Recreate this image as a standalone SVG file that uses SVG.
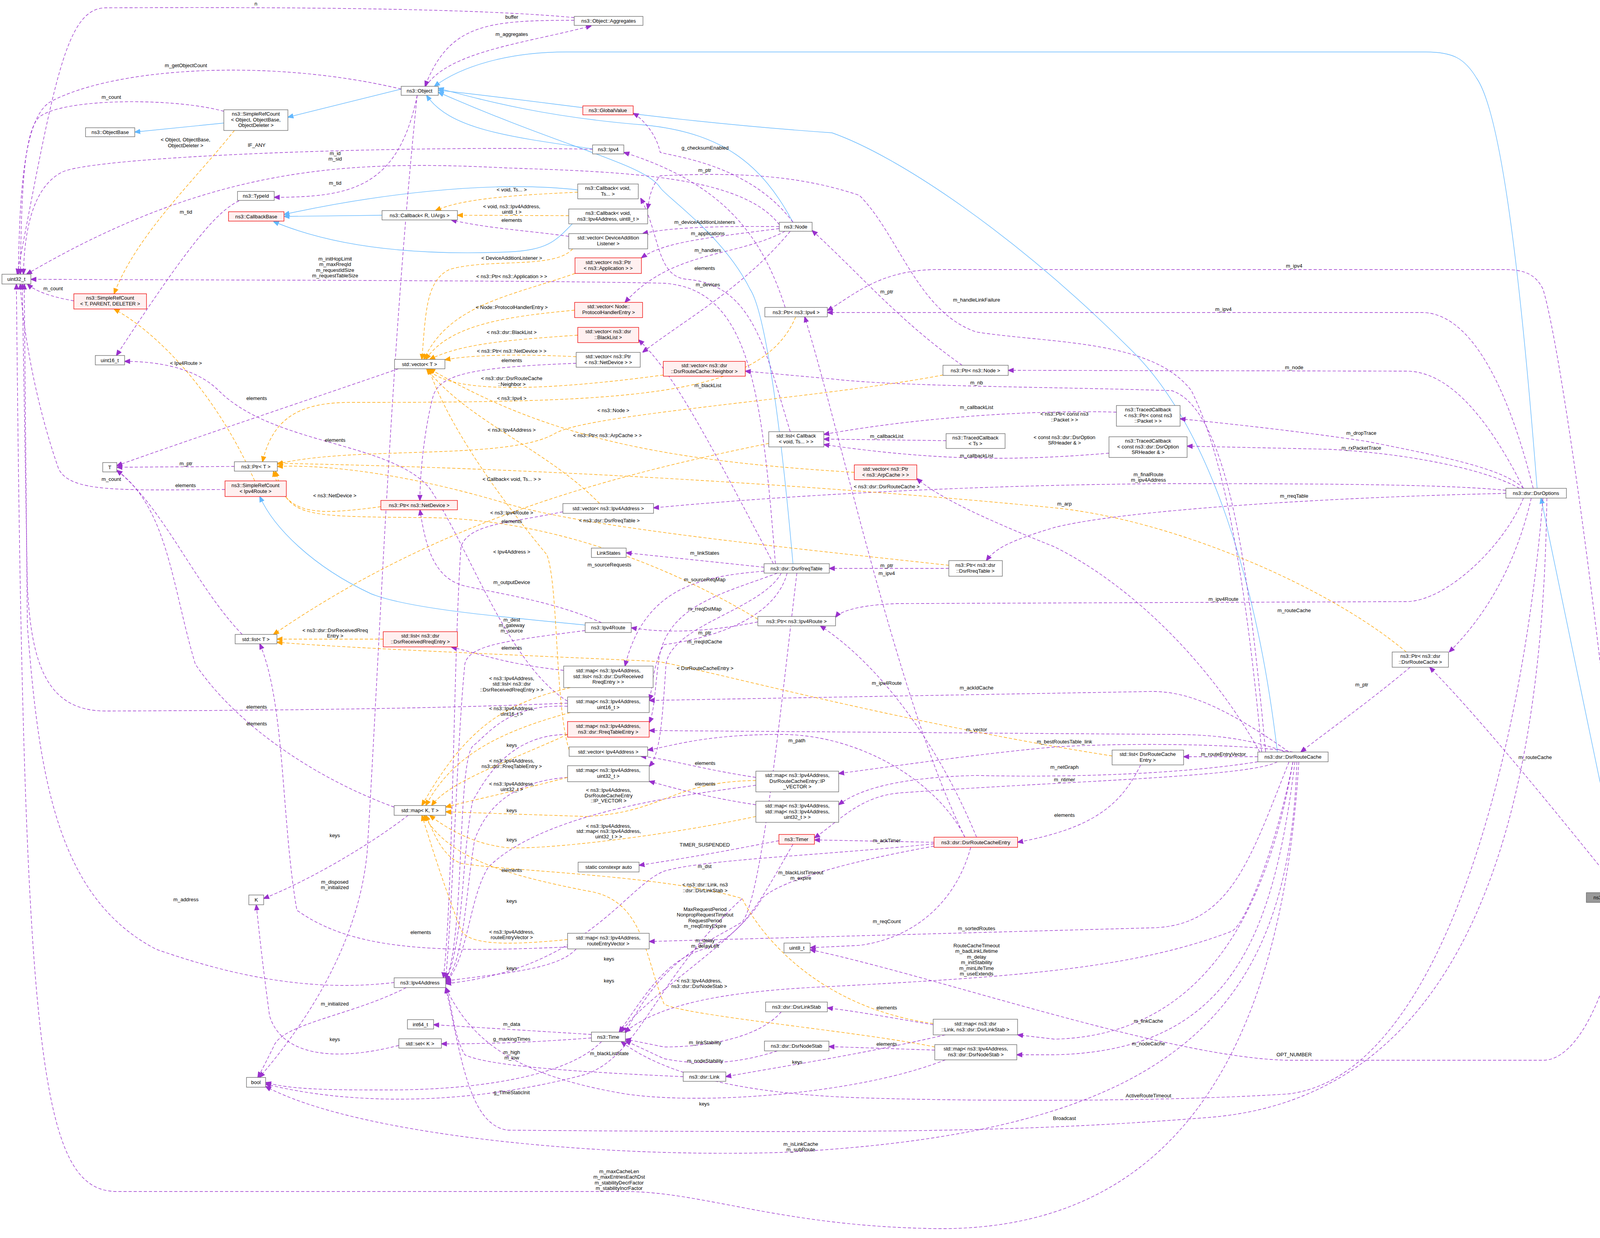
<svg xmlns="http://www.w3.org/2000/svg" width="4261" height="3169" viewBox="0 0 4261 3169">
<style>
text{font-family:"Liberation Sans",Arial,sans-serif;font-size:13px;fill:#000;text-anchor:middle}
.n rect{fill:#fff;stroke:#666;stroke-width:1.3}
.r rect{fill:#fff0f0;stroke:#e00;stroke-width:1.3}
.g rect{fill:#999;stroke:#666;stroke-width:1.3}
path{fill:none;stroke-width:1.4}
.p{stroke:#9a32cd;stroke-dasharray:8,5;marker-end:url(#mp)}
.o{stroke:#ffa500;stroke-dasharray:8,5;marker-end:url(#mo)}
.b{stroke:#63b8ff;marker-end:url(#mb)}
</style>
<defs>
<marker id="mp" viewBox="0 0 10 10" refX="10" refY="5" markerWidth="14" markerHeight="14" markerUnits="userSpaceOnUse" orient="auto"><path d="M0,1 L10,5 L0,9 z" style="fill:#9a32cd;stroke:#9a32cd"/></marker>
<marker id="mo" viewBox="0 0 10 10" refX="10" refY="5" markerWidth="14" markerHeight="14" markerUnits="userSpaceOnUse" orient="auto"><path d="M0,1 L10,5 L0,9 z" style="fill:#ffa500;stroke:#ffa500"/></marker>
<marker id="mb" viewBox="0 0 10 10" refX="10" refY="5" markerWidth="14" markerHeight="14" markerUnits="userSpaceOnUse" orient="auto"><path d="M0,1 L10,5 L0,9 z" style="fill:#63b8ff;stroke:#63b8ff"/></marker>
</defs>
<rect width="4261" height="3169" fill="#fff"/>
<g id="connectors">
<path class="b" d="M573,315 L345,338"/>
<path class="b" d="M1027,228 L737,300"/>
<path class="b" d="M1517,381 C1300,350 1150,330 1092,244"/>
<path class="b" d="M2030,569 C1950,420 1850,340 1650,320 C1400,300 1250,260 1122,226"/>
<path class="b" d="M2030,1443 C2000,1100 1960,800 1920,740 C1850,600 1700,500 1690,480 C1650,420 1450,380 1122,236"/>
<path class="b" d="M3270,1925 C3220,1500 3100,1100 2900,900 C2600,600 2300,400 2130,340 C1700,310 1400,260 1122,231"/>
<path class="b" d="M3935,1250 C3900,800 3850,300 3780,200 C3750,150 3720,133 3650,133 L1450,133 C1300,133 1180,170 1112,221"/>
<path class="b" d="M4155,2285 L3945,1275"/>
<path class="b" d="M1479,486 C1250,460 950,500 727,549"/>
<path class="b" d="M978,551 L727,554"/>
<path class="b" d="M1466,572 C1420,620 1400,640 1300,645 C1050,655 850,630 700,567"/>
<path class="b" d="M1498,1600 C1300,1580 1050,1560 950,1520 C800,1450 700,1350 665,1271"/>

<path class="p" d="M1470,45 C1200,20 700,18 270,20 C170,22 140,200 44,702"/>
<path class="p" d="M1470,52 C1250,52 1150,60 1088,221"/>
<path class="p" d="M1090,221 C1150,130 1350,110 1514,66"/>
<path class="p" d="M1027,228 C700,150 300,170 130,260 C60,300 50,500 47,702"/>
<path class="p" d="M573,285 C450,250 160,250 100,300 C60,340 55,500 52,702"/>
<path class="p" d="M1517,382 C1000,372 250,400 160,440 C80,480 62,600 60,702"/>
<path class="p" d="M1995,575 C1900,450 1600,440 1300,430 C900,410 550,420 68,702"/>
<path class="p" d="M1068,244 C1020,480 900,505 702,505"/>
<path class="p" d="M612,514 C560,540 500,600 298,910"/>
<path class="p" d="M1456,605 C1350,590 1250,585 1155,563"/>
<path class="p" d="M2030,569 C1920,420 1720,400 1690,390 C1680,340 1640,300 1621,290"/>
<path class="p" d="M2010,787 C1950,600 1850,470 1597,390"/>
<path class="p" d="M1995,580 C1800,578 1700,585 1645,598"/>
<path class="p" d="M1995,585 C1800,610 1700,620 1642,660"/>
<path class="p" d="M2010,592 C1880,660 1720,640 1600,774"/>
<path class="p" d="M2023,592 C1900,740 1750,820 1645,902"/>
<path class="p" d="M2023,1105 C1960,900 1930,730 1760,715 C1680,710 1690,600 1640,507"/>
<path class="p" d="M1985,1443 C1950,1000 1920,740 1700,725 C1400,718 600,717 79,715"/>
<path class="p" d="M189,770 C130,760 90,745 70,727"/>
<path class="p" d="M1475,930 C1200,940 1130,960 1110,1010 C1090,1080 1075,1200 1075,1281"/>
<path class="p" d="M1020,944 C800,1020 500,1120 299,1192"/>
<path class="p" d="M1453,1795 C1300,1700 1200,1400 1100,1250 C1000,1130 700,1140 560,1000 C500,940 400,925 319,925"/>
<path class="p" d="M600,1194 L299,1196"/>
<path class="p" d="M576,1253 C300,1255 180,1260 150,1200 C80,1000 55,800 52,727"/>
<path class="p" d="M620,1624 C500,1500 420,1300 299,1204"/>
<path class="p" d="M1956,1452 L1603,1415"/>
<path class="p" d="M1956,1462 C1800,1475 1650,1500 1600,1705"/>
<path class="p" d="M1990,1467 C1850,1520 1700,1550 1685,1700 C1675,1780 1675,1820 1662,1850"/>
<path class="p" d="M2000,1467 C1950,1560 1720,1600 1705,1700 C1695,1850 1690,1930 1662,1962"/>
<path class="p" d="M2015,1467 C1980,1600 1780,1640 1700,1650 C1670,1700 1670,1770 1662,1792"/>
<path class="p" d="M1980,1443 C1800,1100 1720,950 1635,870"/>
<path class="p" d="M1540,1594 C1420,1540 1280,1520 1190,1500 C1110,1480 1090,1400 1075,1305"/>
<path class="p" d="M1940,1592 C1800,1620 1700,1620 1616,1607"/>
<path class="p" d="M1498,1614 C1300,1640 1200,1650 1190,1700 C1170,1900 1160,2300 1141,2505"/>
<path class="p" d="M1441,1310 C1300,1340 1200,1340 1180,1400 C1160,1700 1160,2300 1135,2503"/>
<path class="p" d="M1443,1716 C1300,1700 1250,1680 1155,1656"/>
<path class="p" d="M1453,1800 C1200,1810 900,1818 270,1820 C120,1820 80,1700 70,1500 L57,727"/>
<path class="p" d="M1009,2066 C800,1990 600,1850 500,1700 C440,1500 430,1300 299,1204"/>
<path class="p" d="M1453,1808 C1300,1800 1250,1880 1210,1910 C1170,1960 1190,2400 1141,2510"/>
<path class="p" d="M1453,1880 C1300,1880 1240,2000 1210,2050 C1180,2200 1190,2400 1141,2512"/>
<path class="p" d="M1453,1990 C1300,2000 1240,2080 1215,2150 C1190,2300 1190,2450 1141,2514"/>
<path class="p" d="M1935,2010 C1800,2030 1400,2070 1250,2220 C1200,2300 1200,2450 1141,2516"/>
<path class="p" d="M1045,2087 C950,2160 800,2250 675,2300"/>
<path class="p" d="M1994,2152 C1900,2170 1800,2190 1636,2215"/>
<path class="p" d="M2391,2160 C2100,2190 1800,2200 1700,2230 C1600,2270 1500,2480 1141,2518"/>
<path class="p" d="M2391,2166 C2200,2200 2000,2250 1950,2300 C1900,2400 1650,2550 1590,2642"/>
<path class="p" d="M2040,1467 C2000,1800 1950,2300 1900,2360 C1800,2420 1700,2450 1600,2645"/>
<path class="p" d="M2030,2161 C1950,2300 1900,2400 1800,2430 C1700,2460 1650,2550 1585,2642"/>
<path class="p" d="M1453,2424 C1100,2440 900,2430 760,2330 C720,2100 730,1800 665,1648"/>
<path class="p" d="M1475,2429 C1430,2480 1300,2490 1141,2511"/>
<path class="p" d="M1009,2515 C800,2540 600,2500 400,2430 C150,2300 100,2000 70,1600 L62,727"/>
<path class="p" d="M1040,2528 C900,2600 720,2620 700,2680 C680,2720 670,2740 660,2758"/>
<path class="p" d="M1068,244 C1000,900 970,1700 940,2180 C920,2400 800,2600 664,2758"/>
<path class="p" d="M1514,2648 L1110,2623"/>
<path class="p" d="M1514,2657 C1400,2665 1300,2672 1130,2672"/>
<path class="p" d="M1749,2756 C1500,2745 1250,2730 1190,2700 C1160,2650 1160,2580 1141,2528"/>
<path class="p" d="M1021,2676 C850,2720 720,2700 690,2600 C670,2450 665,2400 656,2316"/>
<path class="p" d="M1540,2666 C1450,2760 1200,2790 1000,2790 C850,2790 750,2790 680,2771"/>
<path class="p" d="M1900,2300 C1680,2500 1640,2700 1500,2750 C1200,2830 900,2830 680,2775"/>
<path class="p" d="M2000,2590 C1940,2660 1800,2680 1700,2680 L1601,2660"/>
<path class="p" d="M1990,2690 C1900,2720 1800,2730 1700,2710 L1601,2664"/>
<path class="p" d="M2420,2649 C2200,2700 2000,2730 1858,2756"/>
<path class="p" d="M4155,2285 C4120,1800 4000,900 3950,740 C3930,700 3900,690 3850,690 L2400,690 C2250,690 2180,760 2118,795"/>
<path class="p" d="M3925,1250 C3850,950 3750,800 3640,800 L2118,800"/>
<path class="p" d="M2463,935 C2300,820 2200,700 2079,590"/>
<path class="p" d="M3230,1925 C3200,1600 3150,1200 3050,1000 C2950,870 2700,880 2500,850 C2350,800 2300,600 2200,500 C2050,450 1900,440 1690,450 C1665,480 1662,510 1658,535"/>
<path class="p" d="M3900,1250 C3800,1050 3700,950 3600,950 L2581,948"/>
<path class="p" d="M3240,1925 C3200,1500 3150,1050 3000,1000 C2700,990 2300,990 2130,970 L1908,950"/>
<path class="p" d="M2858,1055 C2700,1050 2400,1060 2109,1112"/>
<path class="p" d="M2422,1128 L2109,1124"/>
<path class="p" d="M2839,1160 C2600,1180 2400,1180 2109,1138"/>
<path class="p" d="M3900,1250 C3850,1200 3700,1170 3500,1130 C3300,1100 3100,1080 3021,1072"/>
<path class="p" d="M3890,1250 C3800,1200 3600,1160 3400,1150 L3039,1142"/>
<path class="p" d="M3855,1255 C3700,1240 3400,1238 3000,1238 C2600,1240 2100,1260 1673,1300"/>
<path class="p" d="M3225,1925 C3100,1700 2900,1500 2700,1400 C2500,1320 2400,1270 2347,1225"/>
<path class="p" d="M3855,1263 C3500,1270 2900,1300 2700,1350 C2600,1380 2550,1400 2525,1435"/>
<path class="p" d="M2429,1455 L2123,1455"/>
<path class="p" d="M2470,2143 C2300,1800 2150,1100 2060,811"/>
<path class="p" d="M3900,1275 C3850,1400 3700,1540 3600,1540 L2300,1545 C2200,1548 2150,1565 2139,1580"/>
<path class="p" d="M3920,1275 C3880,1450 3800,1580 3710,1669"/>
<path class="p" d="M4150,2285 C4000,2100 3800,1850 3660,1708"/>
<path class="p" d="M3610,1708 C3500,1800 3400,1870 3330,1925"/>
<path class="p" d="M3220,1937 L3030,1937"/>
<path class="p" d="M2920,1958 C2870,2060 2800,2120 2605,2156"/>
<path class="p" d="M2500,2143 C2400,1900 2250,1700 2100,1602"/>
<path class="p" d="M3300,1925 C3150,1820 3050,1770 2950,1770 L1662,1793"/>
<path class="p" d="M3290,1925 C3200,1890 3100,1880 3000,1880 L1662,1870"/>
<path class="p" d="M3310,1925 C3200,1905 2900,1900 2700,1912 C2500,1930 2300,1960 2147,1980"/>
<path class="p" d="M3220,1950 C3000,1985 2700,1990 2500,1985 C2300,1990 2200,2020 2147,2060"/>
<path class="p" d="M3270,1950 C3200,1990 2700,2000 2300,2030 C2200,2040 2150,2100 2085,2145"/>
<path class="p" d="M2391,2156 L2085,2150"/>
<path class="p" d="M2470,2143 C2400,2000 2200,1880 2000,1880 C1800,1880 1720,1910 1658,1920"/>
<path class="p" d="M1935,1990 C1800,1970 1700,1940 1640,1936"/>
<path class="p" d="M1935,2060 C1800,2040 1700,2010 1662,2000"/>
<path class="p" d="M2485,2169 C2450,2300 2350,2400 2200,2420 L2074,2426"/>
<path class="p" d="M3300,1950 C3200,2200 3150,2370 2950,2375 L1662,2410"/>
<path class="p" d="M3310,1950 C3260,2200 3180,2380 3150,2385 C2900,2480 2600,2500 2130,2525 C1900,2535 1700,2560 1600,2642"/>
<path class="p" d="M4155,2310 C4130,2500 4050,2714 3950,2714 L3300,2714 C3000,2710 2400,2500 2074,2431"/>
<path class="p" d="M3310,1950 C3250,2300 3100,2650 2700,2660 L2605,2649"/>
<path class="p" d="M3315,1950 C3260,2400 3150,2690 2700,2700 L2603,2700"/>
<path class="p" d="M2389,2623 C2250,2600 2200,2590 2118,2580"/>
<path class="p" d="M2393,2688 L2122,2679"/>
<path class="p" d="M2420,2713 C2200,2800 1800,2830 1600,2800 C1300,2750 1200,2650 1141,2528"/>
<path class="p" d="M3950,1275 C3900,1900 3700,2750 3300,2800 C3000,2820 2500,2820 2200,2810 C1900,2800 1700,2750 1590,2666"/>
<path class="p" d="M3960,1275 C3950,2000 3800,2800 3100,2860 C2600,2900 2200,2900 1300,2893 C1200,2880 1180,2700 1141,2528"/>
<path class="p" d="M3320,1950 C3300,2600 3000,2900 2000,2950 C1500,2965 900,2900 680,2781"/>
<path class="p" d="M3325,1950 C3280,2700 3000,3150 2400,3145 C2000,3140 1800,3050 1600,3050 L300,3050 C100,3050 60,2700 42,727"/>

<path class="o" d="M600,334 C500,460 350,600 292,752"/>
<path class="o" d="M1479,492 C1300,500 1180,510 1115,539"/>
<path class="o" d="M1456,552 L1171,551"/>
<path class="o" d="M1466,637 C1420,690 1250,660 1150,690 C1090,720 1090,800 1080,920"/>
<path class="o" d="M1472,700 C1300,760 1150,780 1085,920"/>
<path class="o" d="M1471,794 C1300,810 1150,830 1090,920"/>
<path class="o" d="M1479,858 C1300,870 1180,880 1100,920"/>
<path class="o" d="M1475,913 C1300,905 1200,910 1139,921"/>
<path class="o" d="M1698,960 C1400,1000 1150,1010 1095,944"/>
<path class="o" d="M652,1231 C550,1000 400,850 292,791"/>
<path class="o" d="M2037,811 C1950,1020 1600,1030 900,1030 C780,1030 700,1060 672,1182"/>
<path class="o" d="M2414,960 C2100,1020 1500,1060 1420,1110 C1300,1180 900,1140 710,1188"/>
<path class="o" d="M2187,1209 C1700,1180 1400,1120 1100,944"/>
<path class="o" d="M1535,1289 C1400,1150 1200,1080 1092,944"/>
<path class="o" d="M1968,1135 C1500,1230 1100,1350 700,1624"/>
<path class="o" d="M975,1297 C800,1320 730,1320 700,1206"/>
<path class="o" d="M1940,1585 C1700,1440 1400,1330 1100,1325 C760,1322 740,1325 705,1206"/>
<path class="o" d="M2429,1447 C2000,1400 1500,1350 1300,1290 C1000,1200 800,1190 710,1194"/>
<path class="o" d="M3600,1669 C3400,1500 3000,1330 2700,1300 C2300,1260 1500,1200 710,1186"/>
<path class="o" d="M1457,1920 C1420,1800 1430,1500 1400,1420 C1300,1300 1150,1100 1098,944"/>
<path class="o" d="M981,1636 L709,1636"/>
<path class="o" d="M2847,1935 C2300,1850 1750,1700 1680,1693 C1400,1680 900,1660 709,1644"/>
<path class="o" d="M1460,1760 C1300,1800 1200,1850 1080,2062"/>
<path class="o" d="M1460,1824 C1250,1880 1150,1950 1090,2062"/>
<path class="o" d="M1453,1880 C1300,1950 1150,2000 1105,2062"/>
<path class="o" d="M1453,1990 C1300,2030 1200,2050 1141,2066"/>
<path class="o" d="M1935,1998 C1720,2000 1700,2080 1500,2090 L1141,2078"/>
<path class="o" d="M1935,2090 C1700,2140 1400,2175 1300,2170 C1200,2160 1130,2110 1100,2087"/>
<path class="o" d="M2389,2620 C2100,2580 1950,2400 1900,2300 C1700,2240 1300,2230 1180,2210 C1130,2190 1110,2130 1090,2087"/>
<path class="o" d="M2393,2680 C2200,2640 1750,2600 1700,2570 C1650,2450 1650,2300 1500,2280 C1300,2240 1150,2200 1085,2087"/>
<path class="o" d="M1453,2405 C1300,2420 1200,2420 1180,2380 C1130,2250 1100,2150 1080,2087"/>
</g>
<g id="labels">
<text x="655" y="14">n</text>
<text x="1310" y="48">buffer</text>
<text x="1310" y="92">m_aggregates</text>
<text x="476" y="172">m_getObjectCount</text>
<text x="285" y="253">m_count</text>
<text x="475" y="362">&lt; Object, ObjectBase,</text><text x="475" y="377">ObjectDeleter &gt;</text>
<text x="657" y="376">IF_ANY</text>
<text x="858" y="397">m_id</text><text x="858" y="411">m_sid</text>
<text x="858" y="473">m_tid</text>
<text x="476" y="547">m_tid</text>
<text x="1310" y="490">&lt; void, Ts... &gt;</text>
<text x="1310" y="533">&lt; void, ns3::Ipv4Address,</text><text x="1310" y="547">uint8_t &gt;</text>
<text x="1310" y="568">elements</text>
<text x="1805" y="383">g_checksumEnabled</text>
<text x="1804" y="440">m_ptr</text>
<text x="1804" y="573">m_deviceAdditionListeners</text>
<text x="1812" y="602">m_applications</text>
<text x="1812" y="645">m_handlers</text>
<text x="1804" y="691">elements</text>
<text x="1812" y="733">m_devices</text>
<text x="858" y="667">m_initHopLimit</text><text x="858" y="681">m_maxRreqId</text><text x="858" y="696">m_requestIdSize</text><text x="858" y="710">m_requestTableSize</text>
<text x="136" y="743">m_count</text>
<text x="1310" y="665">&lt; DeviceAdditionListener &gt;</text>
<text x="1310" y="712">&lt; ns3::Ptr&lt; ns3::Application &gt; &gt;</text>
<text x="1310" y="791">&lt; Node::ProtocolHandlerEntry &gt;</text>
<text x="1310" y="855">&lt; ns3::dsr::BlackList &gt;</text>
<text x="1310" y="903">&lt; ns3::Ptr&lt; ns3::NetDevice &gt; &gt;</text>
<text x="1310" y="927">elements</text>
<text x="1310" y="973">&lt; ns3::dsr::DsrRouteCache</text><text x="1310" y="988">::Neighbor &gt;</text>
<text x="1812" y="991">m_blackList</text>
<text x="476" y="934">&lt; Ipv4Route &gt;</text>
<text x="657" y="1024">elements</text>
<text x="1310" y="1024">&lt; ns3::Ipv4 &gt;</text>
<text x="1570" y="1055">&lt; ns3::Node &gt;</text>
<text x="1310" y="1105">&lt; ns3::Ipv4Address &gt;</text>
<text x="1555" y="1119">&lt; ns3::Ptr&lt; ns3::ArpCache &gt; &gt;</text>
<text x="858" y="1131">elements</text>
<text x="476" y="1191">m_ptr</text>
<text x="285" y="1231">m_count</text>
<text x="475" y="1247">elements</text>
<text x="1310" y="1231">&lt; Callback&lt; void, Ts... &gt; &gt;</text>
<text x="857" y="1273">&lt; ns3::NetDevice &gt;</text>
<text x="1310" y="1317">&lt; ns3::Ipv4Route &gt;</text>
<text x="1310" y="1339">elements</text>
<text x="1560" y="1337">&lt; ns3::dsr::DsrRreqTable &gt;</text>
<text x="1310" y="1417">&lt; Ipv4Address &gt;</text>
<text x="1804" y="1420">m_linkStates</text>
<text x="1560" y="1450">m_sourceRequests</text>
<text x="1804" y="1488">m_sourceReqMap</text>
<text x="1310" y="1495">m_outputDevice</text>
<text x="1804" y="1563">m_rreqDstMap</text>
<text x="1310" y="1591">m_dest</text><text x="1310" y="1605">m_gateway</text><text x="1310" y="1619">m_source</text>
<text x="858" y="1618">&lt; ns3::dsr::DsrReceivedRreq</text><text x="858" y="1632">Entry &gt;</text>
<text x="1804" y="1624">m_ptr</text>
<text x="1804" y="1647">m_rreqIdCache</text>
<text x="1310" y="1663">elements</text>
<text x="1805" y="1715">&lt; DsrRouteCacheEntry &gt;</text>
<text x="1310" y="1741">&lt; ns3::Ipv4Address,</text><text x="1310" y="1755">std::list&lt; ns3::dsr</text><text x="1310" y="1770">::DsrReceivedRreqEntry &gt; &gt;</text>
<text x="657" y="1814">elements</text>
<text x="1310" y="1818">&lt; ns3::Ipv4Address,</text><text x="1310" y="1832">uint16_t &gt;</text>
<text x="657" y="1857">elements</text>
<text x="1310" y="1912">keys</text>
<text x="1310" y="1952">&lt; ns3::Ipv4Address,</text><text x="1310" y="1966">ns3::dsr::RreqTableEntry &gt;</text>
<text x="1310" y="2011">&lt; ns3::Ipv4Address,</text><text x="1310" y="2025">uint32_t &gt;</text>
<text x="1558" y="2027">&lt; ns3::Ipv4Address,</text><text x="1558" y="2041">DsrRouteCacheEntry</text><text x="1558" y="2054">::IP_VECTOR &gt;</text>
<text x="1310" y="2079">keys</text>
<text x="857" y="2143">keys</text>
<text x="1558" y="2119">&lt; ns3::Ipv4Address,</text><text x="1558" y="2132">std::map&lt; ns3::Ipv4Address,</text><text x="1558" y="2146">uint32_t &gt; &gt;</text>
<text x="1310" y="2154">keys</text>
<text x="1804" y="2167">TIMER_SUSPENDED</text>
<text x="1804" y="2222">m_dst</text>
<text x="1310" y="2232">elements</text>
<text x="2050" y="2238">m_blackListTimeout</text><text x="2050" y="2252">m_expire</text>
<text x="857" y="2262">m_disposed</text><text x="857" y="2276">m_initialized</text>
<text x="1805" y="2269">&lt; ns3::dsr::Link, ns3</text><text x="1805" y="2284">::dsr::DsrLinkStab &gt;</text>
<text x="476" y="2307">m_address</text>
<text x="1310" y="2311">keys</text>
<text x="1805" y="2332">MaxRequestPeriod</text><text x="1805" y="2346">NonpropRequestTimeout</text><text x="1805" y="2361">RequestPeriod</text><text x="1805" y="2375">m_rreqEntryExpire</text>
<text x="1077" y="2391">elements</text>
<text x="1310" y="2390">&lt; ns3::Ipv4Address,</text><text x="1310" y="2404">routeEntryVector &gt;</text>
<text x="1805" y="2412">m_delay</text><text x="1805" y="2426">m_delayLeft</text>
<text x="1559" y="2459">keys</text>
<text x="1310" y="2483">keys</text>
<text x="1790" y="2515">&lt; ns3::Ipv4Address,</text><text x="1790" y="2529">ns3::dsr::DsrNodeStab &gt;</text>
<text x="1559" y="2515">keys</text>
<text x="857" y="2574">m_initialized</text>
<text x="1310" y="2626">m_data</text>
<text x="1310" y="2664">g_markingTimes</text>
<text x="857" y="2665">keys</text>
<text x="1805" y="2673">m_linkStability</text>
<text x="1560" y="2701">m_blackListState</text>
<text x="1310" y="2698">m_high</text><text x="1310" y="2712">m_low</text>
<text x="1805" y="2720">m_nodeStability</text>
<text x="2041" y="2723">keys</text>
<text x="1310" y="2801">g_TimeStaticInit</text>
<text x="1803" y="2830">keys</text>
<text x="1585" y="3003">m_maxCacheLen</text><text x="1585" y="3017">m_maxEntriesEachDst</text><text x="1585" y="3032">m_stabilityDecrFactor</text><text x="1585" y="3046">m_stabilityIncrFactor</text>
<text x="3313" y="685">m_ipv4</text>
<text x="3132" y="796">m_ipv4</text>
<text x="2270" y="751">m_ptr</text>
<text x="2500" y="772">m_handleLinkFailure</text>
<text x="3313" y="945">m_node</text>
<text x="2500" y="984">m_nb</text>
<text x="2500" y="1047">m_callbackList</text>
<text x="2270" y="1121">m_callbackList</text>
<text x="2500" y="1171">m_callbackList</text>
<text x="2725" y="1064">&lt; ns3::Ptr&lt; const ns3</text><text x="2725" y="1079">::Packet &gt; &gt;</text>
<text x="2725" y="1124">&lt; const ns3::dsr::DsrOption</text><text x="2725" y="1138">SRHeader &amp; &gt;</text>
<text x="3485" y="1113">m_dropTrace</text>
<text x="3485" y="1151">m_rxPacketTrace</text>
<text x="2940" y="1219">m_finalRoute</text><text x="2940" y="1233">m_ipv4Address</text>
<text x="2270" y="1250">&lt; ns3::dsr::DsrRouteCache &gt;</text>
<text x="3313" y="1274">m_rreqTable</text>
<text x="2725" y="1294">m_arp</text>
<text x="2270" y="1452">m_ptr</text>
<text x="2270" y="1472">m_ipv4</text>
<text x="3132" y="1538">m_ipv4Route</text>
<text x="3313" y="1567">m_routeCache</text>
<text x="2270" y="1753">m_ipv4Route</text>
<text x="3486" y="1757">m_ptr</text>
<text x="2500" y="1765">m_ackIdCache</text>
<text x="2500" y="1872">m_vector</text>
<text x="2040" y="1900">m_path</text>
<text x="2725" y="1903">m_bestRoutesTable_link</text>
<text x="3132" y="1935">m_routeEntryVector</text>
<text x="3930" y="1943">m_routeCache</text>
<text x="1805" y="1958">elements</text>
<text x="2725" y="1968">m_netGraph</text>
<text x="2725" y="2000">m_ntimer</text>
<text x="1805" y="2011">elements</text>
<text x="2725" y="2091">elements</text>
<text x="2270" y="2156">m_ackTimer</text>
<text x="2270" y="2363">m_reqCount</text>
<text x="2500" y="2381">m_sortedRoutes</text>
<text x="2500" y="2425">RouteCacheTimeout</text><text x="2500" y="2439">m_badLinkLifetime</text><text x="2500" y="2454">m_delay</text><text x="2500" y="2468">m_initStability</text><text x="2500" y="2483">m_minLifeTime</text><text x="2500" y="2497">m_useExtends</text>
<text x="2270" y="2584">elements</text>
<text x="2940" y="2618">m_linkCache</text>
<text x="2270" y="2677">elements</text>
<text x="2940" y="2676">m_nodeCache</text>
<text x="3313" y="2704">OPT_NUMBER</text>
<text x="2940" y="2809">ActiveRouteTimeout</text>
<text x="2725" y="2867">Broadcast</text>
<text x="2050" y="2933">m_isLinkCache</text><text x="2050" y="2947">m_subRoute</text>
</g>
<g id="aggregates" class="n"><rect x="1470" y="42" width="176" height="23"/><text x="1558" y="58">ns3::Object::Aggregates</text></g>
<g id="object" class="n"><rect x="1027" y="221" width="95" height="23"/><text x="1074" y="237">ns3::Object</text></g>
<g id="src_object" class="n"><rect x="573" y="281" width="164" height="53"/><text x="655" y="296">ns3::SimpleRefCount</text><text x="655" y="311">&lt; Object, ObjectBase,</text><text x="655" y="325">ObjectDeleter &gt;</text></g>
<g id="objectbase" class="n"><rect x="219" y="327" width="126" height="23"/><text x="282" y="343">ns3::ObjectBase</text></g>
<g id="globalvalue" class="r"><rect x="1492" y="271" width="129" height="23"/><text x="1556" y="287">ns3::GlobalValue</text></g>
<g id="ipv4" class="n"><rect x="1517" y="371" width="80" height="23"/><text x="1557" y="387">ns3::Ipv4</text></g>
<g id="typeid" class="n"><rect x="608" y="490" width="94" height="23"/><text x="655" y="506">ns3::TypeId</text></g>
<g id="callbackbase" class="r"><rect x="585" y="542" width="142" height="24"/><text x="656" y="559">ns3::CallbackBase</text></g>
<g id="cb_void_ts" class="n"><rect x="1479" y="471" width="155" height="38"/><text x="1556" y="486">ns3::Callback&lt; void,</text><text x="1556" y="501">Ts... &gt;</text></g>
<g id="cb_r_uargs" class="n"><rect x="978" y="539" width="193" height="24"/><text x="1074" y="556">ns3::Callback&lt; R, UArgs &gt;</text></g>
<g id="cb_void_ip" class="n"><rect x="1456" y="535" width="202" height="38"/><text x="1557" y="550">ns3::Callback&lt; void,</text><text x="1557" y="565">ns3::Ipv4Address, uint8_t &gt;</text></g>
<g id="vec_dal" class="n"><rect x="1456" y="598" width="202" height="39"/><text x="1557" y="613">std::vector&lt; DeviceAddition</text><text x="1557" y="628">Listener &gt;</text></g>
<g id="node" class="n"><rect x="1995" y="569" width="84" height="23"/><text x="2037" y="585">ns3::Node</text></g>
<g id="uint32" class="n"><rect x="5" y="702" width="74" height="25"/><text x="42" y="719">uint32_t</text></g>
<g id="src_t" class="r"><rect x="189" y="752" width="186" height="39"/><text x="282" y="767">ns3::SimpleRefCount</text><text x="282" y="782">&lt; T, PARENT, DELETER &gt;</text></g>
<g id="vec_app" class="r"><rect x="1472" y="660" width="170" height="40"/><text x="1557" y="676">std::vector&lt; ns3::Ptr</text><text x="1557" y="691">&lt; ns3::Application &gt; &gt;</text></g>
<g id="vec_phe" class="r"><rect x="1471" y="774" width="174" height="39"/><text x="1558" y="789">std::vector&lt; Node::</text><text x="1558" y="804">ProtocolHandlerEntry &gt;</text></g>
<g id="ptr_ipv4" class="n"><rect x="1958" y="787" width="160" height="24"/><text x="2038" y="804">ns3::Ptr&lt; ns3::Ipv4 &gt;</text></g>
<g id="vec_bl" class="r"><rect x="1479" y="838" width="156" height="39"/><text x="1557" y="853">std::vector&lt; ns3::dsr</text><text x="1557" y="868">::BlackList &gt;</text></g>
<g id="vec_nd" class="n"><rect x="1475" y="902" width="164" height="38"/><text x="1557" y="917">std::vector&lt; ns3::Ptr</text><text x="1557" y="932">&lt; ns3::NetDevice &gt; &gt;</text></g>
<g id="vec_t" class="n"><rect x="1010" y="920" width="129" height="24"/><text x="1074" y="937">std::vector&lt; T &gt;</text></g>
<g id="uint16" class="n"><rect x="244" y="910" width="75" height="24"/><text x="281" y="927">uint16_t</text></g>
<g id="vec_nb" class="r"><rect x="1698" y="925" width="210" height="38"/><text x="1803" y="940">std::vector&lt; ns3::dsr</text><text x="1803" y="955">::DsrRouteCache::Neighbor &gt;</text></g>
<g id="list_cb" class="n"><rect x="1968" y="1105" width="141" height="39"/><text x="2038" y="1120">std::list&lt; Callback</text><text x="2038" y="1135">&lt; void, Ts... &gt; &gt;</text></g>
<g id="t" class="n"><rect x="263" y="1184" width="36" height="24"/><text x="281" y="1201">T</text></g>
<g id="ptr_t" class="n"><rect x="600" y="1182" width="110" height="24"/><text x="655" y="1199">ns3::Ptr&lt; T &gt;</text></g>
<g id="src_route" class="r"><rect x="576" y="1231" width="157" height="40"/><text x="654" y="1247">ns3::SimpleRefCount</text><text x="654" y="1262">&lt; Ipv4Route &gt;</text></g>
<g id="ptr_nd" class="r"><rect x="975" y="1281" width="196" height="24"/><text x="1073" y="1298">ns3::Ptr&lt; ns3::NetDevice &gt;</text></g>
<g id="vec_ipaddr" class="n"><rect x="1441" y="1289" width="232" height="25"/><text x="1557" y="1306">std::vector&lt; ns3::Ipv4Address &gt;</text></g>
<g id="linkstates" class="n"><rect x="1514" y="1403" width="89" height="24"/><text x="1558" y="1420">LinkStates</text></g>
<g id="rreqtable" class="n"><rect x="1956" y="1443" width="167" height="24"/><text x="2039" y="1460">ns3::dsr::DsrRreqTable</text></g>
<g id="ipv4route" class="n"><rect x="1498" y="1594" width="118" height="25"/><text x="1557" y="1611">ns3::Ipv4Route</text></g>
<g id="list_t" class="n"><rect x="602" y="1624" width="107" height="24"/><text x="655" y="1641">std::list&lt; T &gt;</text></g>
<g id="list_rre" class="r"><rect x="981" y="1617" width="190" height="39"/><text x="1076" y="1632">std::list&lt; ns3::dsr</text><text x="1076" y="1647">::DsrReceivedRreqEntry &gt;</text></g>
<g id="ptr_route" class="n"><rect x="1940" y="1578" width="199" height="24"/><text x="2039" y="1595">ns3::Ptr&lt; ns3::Ipv4Route &gt;</text></g>
<g id="map_list" class="n"><rect x="1443" y="1705" width="229" height="55"/><text x="1557" y="1721">std::map&lt; ns3::Ipv4Address,</text><text x="1557" y="1736">std::list&lt; ns3::dsr::DsrReceived</text><text x="1557" y="1750">RreqEntry &gt; &gt;</text></g>
<g id="map_u16" class="n"><rect x="1453" y="1784" width="209" height="40"/><text x="1557" y="1800">std::map&lt; ns3::Ipv4Address,</text><text x="1557" y="1815">uint16_t &gt;</text></g>
<g id="map_rte" class="r"><rect x="1453" y="1847" width="209" height="40"/><text x="1557" y="1863">std::map&lt; ns3::Ipv4Address,</text><text x="1557" y="1878">ns3::dsr::RreqTableEntry &gt;</text></g>
<g id="vec_ip2" class="n"><rect x="1457" y="1912" width="201" height="24"/><text x="1557" y="1929">std::vector&lt; Ipv4Address &gt;</text></g>
<g id="map_u32" class="n"><rect x="1453" y="1960" width="209" height="41"/><text x="1557" y="1976">std::map&lt; ns3::Ipv4Address,</text><text x="1557" y="1991">uint32_t &gt;</text></g>
<g id="map_kt" class="n"><rect x="1009" y="2062" width="132" height="25"/><text x="1075" y="2079">std::map&lt; K, T &gt;</text></g>
<g id="map_ipv" class="n"><rect x="1935" y="1974" width="212" height="53"/><text x="2041" y="1989">std::map&lt; ns3::Ipv4Address,</text><text x="2041" y="2004">DsrRouteCacheEntry::IP</text><text x="2041" y="2018">_VECTOR &gt;</text></g>
<g id="map_map" class="n"><rect x="1935" y="2051" width="212" height="54"/><text x="2041" y="2067">std::map&lt; ns3::Ipv4Address,</text><text x="2041" y="2082">std::map&lt; ns3::Ipv4Address,</text><text x="2041" y="2096">uint32_t &gt; &gt;</text></g>
<g id="timer" class="r"><rect x="1994" y="2136" width="91" height="25"/><text x="2039" y="2153">ns3::Timer</text></g>
<g id="sca" class="n"><rect x="1480" y="2207" width="156" height="25"/><text x="1558" y="2224">static constexpr auto</text></g>
<g id="k" class="n"><rect x="637" y="2291" width="38" height="25"/><text x="656" y="2308">K</text></g>
<g id="map_rev" class="n"><rect x="1453" y="2389" width="209" height="40"/><text x="1557" y="2405">std::map&lt; ns3::Ipv4Address,</text><text x="1557" y="2420">routeEntryVector &gt;</text></g>
<g id="uint8" class="n"><rect x="2007" y="2414" width="67" height="25"/><text x="2040" y="2431">uint8_t</text></g>
<g id="ipaddr" class="n"><rect x="1009" y="2503" width="132" height="25"/><text x="1075" y="2520">ns3::Ipv4Address</text></g>
<g id="linkstab" class="n"><rect x="1960" y="2565" width="158" height="25"/><text x="2039" y="2582">ns3::dsr::DsrLinkStab</text></g>
<g id="int64" class="n"><rect x="1043" y="2610" width="67" height="24"/><text x="1076" y="2627">int64_t</text></g>
<g id="time" class="n"><rect x="1514" y="2642" width="87" height="24"/><text x="1557" y="2659">ns3::Time</text></g>
<g id="set_k" class="n"><rect x="1021" y="2659" width="109" height="24"/><text x="1075" y="2676">std::set&lt; K &gt;</text></g>
<g id="nodestab" class="n"><rect x="1957" y="2665" width="165" height="25"/><text x="2039" y="2682">ns3::dsr::DsrNodeStab</text></g>
<g id="link" class="n"><rect x="1749" y="2744" width="109" height="24"/><text x="1803" y="2761">ns3::dsr::Link</text></g>
<g id="bool" class="n"><rect x="631" y="2758" width="49" height="25"/><text x="655" y="2775">bool</text></g>
<g id="ptr_rc" class="n"><rect x="3564" y="1669" width="144" height="39"/><text x="3636" y="1684">ns3::Ptr&lt; ns3::dsr</text><text x="3636" y="1699">::DsrRouteCache &gt;</text></g>
<g id="list_rce" class="n"><rect x="2847" y="1920" width="183" height="38"/><text x="2938" y="1935">std::list&lt; DsrRouteCache</text><text x="2938" y="1950">Entry &gt;</text></g>
<g id="routecache" class="n"><rect x="3220" y="1925" width="180" height="25"/><text x="3310" y="1942">ns3::dsr::DsrRouteCache</text></g>
<g id="rce" class="r"><rect x="2391" y="2143" width="214" height="26"/><text x="2498" y="2161">ns3::dsr::DsrRouteCacheEntry</text></g>
<g id="map_link" class="n"><rect x="2389" y="2609" width="216" height="40"/><text x="2497" y="2625">std::map&lt; ns3::dsr</text><text x="2497" y="2640">::Link, ns3::dsr::DsrLinkStab &gt;</text></g>
<g id="map_ns" class="n"><rect x="2393" y="2674" width="210" height="39"/><text x="2498" y="2689">std::map&lt; ns3::Ipv4Address,</text><text x="2498" y="2704">ns3::dsr::DsrNodeStab &gt;</text></g>
<g id="ackreq" class="g"><rect x="4061" y="2285" width="194" height="25"/><text x="4158" y="2302">ns3::dsr::DsrOptionAckReq</text></g>
<g id="ptr_node" class="n"><rect x="2414" y="935" width="167" height="26"/><text x="2497" y="953">ns3::Ptr&lt; ns3::Node &gt;</text></g>
<g id="tc_pkt" class="n"><rect x="2858" y="1038" width="163" height="53"/><text x="2939" y="1053">ns3::TracedCallback</text><text x="2939" y="1068">&lt; ns3::Ptr&lt; const ns3</text><text x="2939" y="1082">::Packet &gt; &gt;</text></g>
<g id="tc_ts" class="n"><rect x="2422" y="1110" width="151" height="38"/><text x="2497" y="1125">ns3::TracedCallback</text><text x="2497" y="1140">&lt; Ts &gt;</text></g>
<g id="tc_opt" class="n"><rect x="2839" y="1118" width="200" height="53"/><text x="2939" y="1133">ns3::TracedCallback</text><text x="2939" y="1148">&lt; const ns3::dsr::DsrOption</text><text x="2939" y="1162">SRHeader &amp; &gt;</text></g>
<g id="vec_arp" class="r"><rect x="2187" y="1190" width="160" height="38"/><text x="2267" y="1205">std::vector&lt; ns3::Ptr</text><text x="2267" y="1220">&lt; ns3::ArpCache &gt; &gt;</text></g>
<g id="options" class="n"><rect x="3855" y="1250" width="155" height="25"/><text x="3932" y="1267">ns3::dsr::DsrOptions</text></g>
<g id="ptr_rreq" class="n"><rect x="2429" y="1435" width="137" height="40"/><text x="2497" y="1451">ns3::Ptr&lt; ns3::dsr</text><text x="2497" y="1466">::DsrRreqTable &gt;</text></g>
</svg>
